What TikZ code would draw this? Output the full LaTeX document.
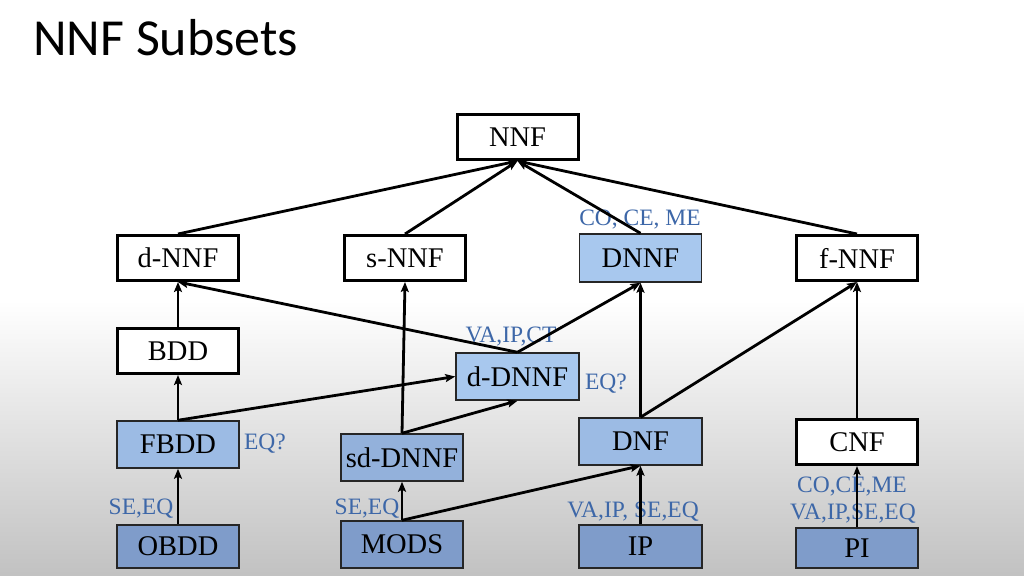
\documentclass[tikz,border=0pt]{standalone}
\usepackage{fontspec}
\setmainfont{Liberation Serif}
\newfontfamily\titlefont{Carlito}
\usetikzlibrary{arrows.meta}
\definecolor{lblue}{HTML}{A8C8EE}
\definecolor{mblue}{HTML}{9CBBE4}
\definecolor{sblue}{HTML}{93B1DB}
\definecolor{dblue}{HTML}{7F9CCA}
\definecolor{labc}{HTML}{3D67A8}
\begin{document}
\begin{tikzpicture}[x=1pt,y=-1pt,
  wbox/.style={draw=black,line width=3pt,fill=white,minimum width=121pt,minimum height=45pt,inner sep=0pt,font=\fontsize{28.5}{31}\selectfont},
  bbox/.style={draw=black!85,line width=1.5pt,minimum width=122pt,inner sep=0pt,font=\fontsize{28.5}{31}\selectfont},
  lab/.style={text=labc,inner sep=0pt,font=\fontsize{23.5}{25}\selectfont},
  arr/.style={line width=2.8pt,-{Stealth[length=10pt,width=8pt,inset=2pt]}},
  thinarr/.style={line width=1.4pt,-{Stealth[length=9pt,width=7pt,inset=2pt]}}]
\useasboundingbox (0,0) rectangle (1024,575);
\fill[white] (0,0) rectangle (1024,300);
\shade[top color=white,bottom color=black!24] (0,300) rectangle (1024,575);
\node[anchor=base west,inner sep=0pt,font=\titlefont\fontsize{52}{56}\selectfont] (title) at (33,56) {NNF Subsets};
% nodes
\node[wbox] (nnf) at (517.5,137) {NNF};
\node[wbox] (dnnf) at (178,258) {d-NNF};
\node[wbox] (snnf) at (405,258) {s-NNF};
\node[bbox,fill=lblue,minimum height=48pt] (DNNF) at (640.5,258) {DNNF};
\node[wbox] (fnnf) at (857,258) {f-NNF};
\node[wbox] (bdd) at (178,351) {BDD};
\node[bbox,fill=lblue,minimum height=47pt,minimum width=123pt] (ddnnf) at (517.5,376.5) {d-DNNF};
\node[bbox,fill=mblue,minimum height=47pt] (fbdd) at (178,444.5) {FBDD};
\node[bbox,fill=sblue,minimum height=47pt] (sddnnf) at (402,457.5) {sd-DNNF};
\node[bbox,fill=mblue,minimum height=47pt,minimum width=123pt] (dnf) at (640.5,441.5) {DNF};
\node[wbox] (cnf) at (857,442) {CNF};
\node[bbox,fill=dblue,minimum height=43pt] (obdd) at (178,546.5) {OBDD};
\node[bbox,fill=dblue,minimum height=47pt] (mods) at (402,544.5) {MODS};
\node[bbox,fill=dblue,minimum height=43pt,minimum width=123pt] (ip) at (640.5,546.5) {IP};
\node[bbox,fill=dblue,minimum height=40pt] (pi) at (857,548) {PI};
% labels
\node[lab] (l1) at (640,220) {CO, CE, ME};
\node[lab] (l2) at (511,337) {VA,IP,CT};
\node[lab] (l3) at (606,384) {EQ?};
\node[lab] (l4) at (265,444) {EQ?};
\node[lab] (l5) at (141,509) {SE,EQ};
\node[lab] (l6) at (367,509) {SE,EQ};
\node[lab] (l7) at (633,512) {VA,IP, SE,EQ};
\node[lab] (l8) at (852,487) {CO,CE,ME};
\node[lab] (l9) at (853,514) {VA,IP,SE,EQ};
% edges
\draw[arr] (dnnf.north) -- (nnf.south);
\draw[arr] (snnf.north) -- (nnf.south);
\draw[arr] (DNNF.north) -- (nnf.south);
\draw[arr] (fnnf.north) -- (nnf.south);
\draw[arr] (bdd.north) -- (dnnf.south);
\draw[arr] (ddnnf.north) -- (dnnf.south);
\draw[arr] (ddnnf.north) -- (DNNF.south);
\draw[arr] (fbdd.north) -- (bdd.south);
\draw[arr] (fbdd.north) -- (ddnnf.west);
\draw[arr] (sddnnf.north) -- (snnf.south);
\draw[arr] (sddnnf.north) -- (ddnnf.south);
\draw[arr] (dnf.north) -- (DNNF.south);
\draw[arr] (dnf.north) -- (fnnf.south);
\draw[arr] (cnf.north) -- (fnnf.south);
\draw[arr] (obdd.north) -- (fbdd.south);
\draw[arr] (mods.north) -- (sddnnf.south);
\draw[arr] (mods.north) -- (dnf.south);
\draw[arr] (ip.north) -- (dnf.south);
\draw[thinarr] (pi.north) -- (cnf.south);
\end{tikzpicture}
\end{document}
